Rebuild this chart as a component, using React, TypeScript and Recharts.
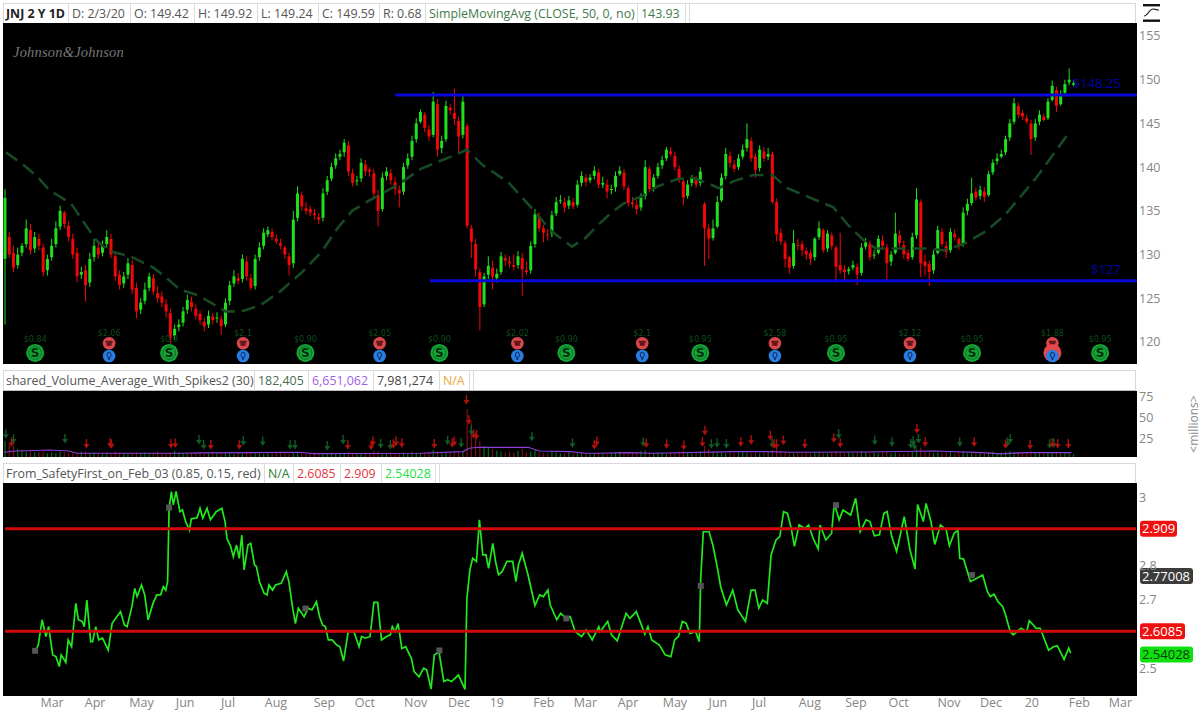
import React from "react";
import { ComposedChart, Bar, Line, Scatter, XAxis, YAxis, ReferenceLine, ReferenceDot } from "recharts";

// Candles are read every second trading session (bar index = position * 2)
const opens = [
129.5,132,130.2,128.8,130.2,131.2,132.8,130.7,131.8,130.8,
128.2,129.7,131.2,133.2,134.8,133.3,131.8,130.2,127.7,128.2,
126.8,129.7,130.8,130.2,131.2,131.8,129.8,127.7,126.7,127.7,
128.8,126.2,123.7,124.7,126.2,127.3,125.6,125.2,124.3,123.3,
120.7,121.7,122.2,123.7,124.6,123.8,123.2,122.3,122,122.9,
122.7,122.6,122,124.7,126.7,127.3,127.2,129.2,127.3,126.4,
129.7,131,132.3,132.6,131.8,131.3,130.8,129.8,129,134.2,
136.8,135.3,135.2,134.7,134.3,134.2,137.2,138.7,140.2,141.2,
141.7,142.5,139.3,138.4,138.7,140.3,139.7,139.3,136.8,135.2,
139,139.3,138.3,137.4,137.2,140.2,141.2,143.2,145.2,146,
144.3,143.7,147.2,142.2,143.2,146.8,146.2,145.3,143.7,144.7,
133,131.2,128,124.3,127.7,128.5,127.3,128,129.6,129.2,
128.8,128.8,129.6,128.2,128.2,131.2,134.4,133,132.3,132.4,
134.7,136.2,136,135.6,136,135.7,138.2,138.8,138.5,139,
139.4,138,138,137.4,137.7,139.2,139.4,137.6,136,135.7,
135.4,136.7,139.8,137.7,139,140.2,141,141.8,141.3,139.8,
138.4,136.7,138.2,138.6,138.2,135.8,133,131.9,133.2,136.2,
139,141.3,140.3,140,141.2,142.2,143,141.2,139.9,141.8,
141.2,141.5,136,132.5,131.3,129.7,128.7,131.1,131.2,130.4,
130.2,129.7,132,132.8,130.7,132.2,130.8,128.8,128.3,128.1,
128.5,128.6,127.9,130.9,131.2,129.9,130.2,131.6,130.8,129.2,
130.2,132.2,131.1,130.2,129.7,132.2,136,129.2,128.9,128.2,
130.2,132.6,131,130.5,132.4,131.8,131.2,135,135.9,137.2,
136.7,137.2,136.8,139.4,140.7,141.2,141.7,143.4,145.2,147,
146.2,145.6,145,143.4,145.2,145.8,145.6,147.7,148.8,147.2,
148.5,149.7,149.42];
const highs = [
137.5,132.6,131,130.8,131.3,134,133.5,132.6,132.4,131.2,
130,131.8,133.8,135.6,135,133.8,132.4,130.8,128.6,128.8,
130.2,131.8,131.3,131.6,132.8,132.4,130.3,128.2,128,129.6,
129.4,126.8,125,126.8,127.9,127.8,126.4,125.8,124.9,123.8,
122,122.6,124,125.4,125.2,124.3,123.6,122.8,123.6,123.3,
123.4,123,125,127,128.2,127.9,130,129.8,127.8,130,
131.4,133,133.2,133,132.3,131.8,131,130.2,135,137.8,
137.2,136,135.6,135.2,134.8,137.6,139,140.5,141.6,142,
143.2,143,139.8,139,141,140.8,140,139.8,137.4,139.4,
140,139.8,138.9,137.9,140.5,141.6,143.6,145.6,146.6,146.3,
144.8,148.6,147.8,143.6,147.6,147.2,149,145.8,148.3,145,
133.4,131.8,128.4,127.9,129.8,129.3,128.4,130.3,130,129.8,
130,130.4,130.2,129.2,131.5,135.2,134.8,133.4,132.9,135,
136.6,136.8,136.5,136.7,136.5,138.5,139.5,139.2,139.2,140.1,
139.8,138.9,138.6,138,139.5,140.1,139.8,137.9,136.6,136.2,
137,140.8,140.1,139.2,140.5,141.3,142.3,142.3,141.8,140.2,
138.6,138.5,139.1,139,140,136,133.5,134,136.7,139.3,
142.2,141.8,140.8,141.5,142.6,145,143.4,141.6,142.5,142.3,
142.2,141.8,136.4,133,131.6,129.9,132.8,131.8,131.6,130.8,
130.6,132,133.8,133,132.8,132.5,131,132.5,128.8,128.6,
129.3,129,131.3,131.9,131.6,130.5,132.2,132.2,131.2,130.4,
134.8,132.8,131.6,130.6,132.5,137.6,136.3,130,129.3,130.5,
133.3,133,131.5,133,132.9,132,135.4,136.4,138.8,137.6,
137.9,137.7,139.6,140.9,141.6,142,143.6,145.5,147.9,147.4,
146.5,146,145.4,145.5,146.5,146.1,147.9,149.9,149.2,148.8,
150,151.3,149.92];
const lows = [
122,129.6,128,128.4,129.8,130.8,130,130.2,130.5,127.5,
127.6,129.3,130.8,132.8,133,131.5,129.5,126.8,127.2,124.6,
126.3,129.2,129.5,129.8,130.8,129.6,127,126,126.2,127.2,
125.5,122.7,123.2,124.3,125.8,125.4,124.5,124,122.8,119.8,
120.2,121.2,121.8,123.2,123.5,122.6,122,121.2,121.6,122,
122.2,120.8,121.7,124.2,126.3,126.6,126.8,127,125.9,126,
129.3,130.6,132,131.6,131.2,130.6,129.5,127.6,128.5,133.8,
135,134.6,134.4,134,133.5,133.8,136.8,138.4,139.8,140.8,
141.2,139,137.8,137.9,138.3,139,138.9,136.6,133.2,134.9,
138.5,138,136.8,135.4,136.8,139.8,140.8,142.8,145,144,
143,143.4,141.2,141.6,142.9,146,144.8,141.6,143.3,133,
129.6,127.5,121.3,124,127.2,126,126.8,127.7,128.7,128.5,
128.2,128.4,125.3,127.7,127.8,130.8,132.6,131.4,131.6,132,
134.4,135.8,134.8,135.2,135.2,135.4,137.8,137.8,138.2,138.6,
137.6,137.6,136.4,136.9,137.2,139,137.4,135.5,135.4,134.6,
135,136.3,137.1,137.2,138.7,139.8,140.7,141.2,139.6,138.2,
135.6,136.4,137.8,137.6,137.8,128.7,129.5,131.6,133,136,
138.6,140,139.4,139.7,140.9,141.8,140.6,138.8,139.5,140.6,
140.8,135.8,131.5,131.1,128.5,127.8,128.4,130.5,129.8,129.4,
128.8,129.3,131.7,130.2,130.3,130.6,126.8,127.8,127.2,127.7,
128.2,126.5,127.6,130.6,129.3,129.5,130,130.6,126.9,128.7,
130,130.9,129.5,129.2,129.4,131.8,127.4,127.6,126.4,127.8,
130,130.9,129.6,130.2,131.6,130.6,130.9,134.5,135.6,136.2,
136.3,136,136.6,139.1,140.3,141,141.4,143,144.9,145.6,
145.4,144.9,141.4,143,144.8,145.2,145.4,147.5,146.3,147,
148.2,149.4,149.24];
const closes = [
136.5,130,128.5,130,131,133,130.5,132,131,128,
129.5,131,133,135,133.5,132,130,127.5,128,126.5,
129.5,131,130,131,132,130,127.5,126.5,127.5,129,
126,123.5,124.5,126,127.5,125.8,125,124.5,123.5,120.5,
121.5,122,123.5,124.8,124,123,122.5,121.8,123,122.5,
122.8,121.8,124.5,126.5,127.5,127,129.5,127.5,126.2,129.5,
130.8,132.5,132.8,132,131.5,131,130,128.8,134,137,
135.5,135,134.8,134.5,134,137,138.5,140,141,141.5,
142.8,139.5,138.2,138.5,140.5,139.5,139.5,137,135,138.8,
139.5,138.5,137.5,137,140,141,143,145,146.3,144.5,
143.5,147.5,142,143,147,146.5,145.5,143.5,147.5,133.3,
131.5,128.3,124,127.5,128.7,127.5,127.8,129.8,129.3,129,
128.6,129.8,128.3,128,131,134.6,133,132.5,132.2,134.5,
136,136.2,135.4,136.2,135.5,138,139,138.3,138.8,139.6,
138,138.2,137.2,137.5,139,139.6,137.8,135.9,135.8,135.2,
136.5,140,137.5,138.8,140,140.8,142,141.5,140,138.6,
136.5,138,138.8,138,139.5,133,131.8,133,136,138.8,
141.5,140.5,139.8,141,142,143.2,141,139.7,142,141,
141.5,136,132.3,131.5,129.5,128.5,131.3,131,130.5,130,
129.5,131.8,133,130.5,132.4,131,128.6,128.2,128,128.3,
128.8,127.7,130.8,131.4,129.7,130,131.8,131,129,130,
132.4,131.3,130,129.5,132,136.3,129,128.7,128,130,
132.8,131.2,130.3,132.6,132,131,134.8,135.8,137,136.5,
137.4,136.6,139.2,140.5,141,141.5,143.2,145,147.3,146,
145.8,145.2,143.2,145,146,145.4,147.5,149.3,147,148.3,
149.5,150,149.59];
const volumes = [
22,18,16,12,11,9,9,8,8,9,
7,8,7,9,8,7,8,7,9,10,
7,8,7,6,8,7,9,8,7,6,
7,8,7,8,6,7,9,7,6,8,
10,8,7,6,7,8,7,6,7,9,
7,8,7,7,6,8,7,9,8,7,
7,6,8,7,8,9,7,6,8,9,
7,6,7,8,7,7,6,8,7,6,
8,9,7,7,6,8,7,10,9,7,
7,8,6,7,8,7,9,8,7,8,
9,11,10,7,8,7,9,8,9,60,
44,32,22,16,14,12,10,9,8,9,
8,10,12,8,9,11,8,7,7,9,
8,7,7,8,7,7,8,7,6,7,
8,7,6,7,8,9,8,7,8,9,
10,11,8,7,8,7,6,8,7,9,
10,8,7,7,9,16,12,9,8,8,
7,8,7,8,9,8,7,8,7,8,
8,11,14,10,9,8,7,8,7,8,
7,8,9,8,7,8,10,8,7,8,
7,8,9,8,7,8,7,8,9,7,
8,7,6,8,9,12,14,9,8,7,
8,7,8,9,7,8,9,7,8,7,
8,7,8,9,7,8,9,10,9,8,
7,8,10,7,8,7,8,8,9,7,
8,7,6];

const smaBars = [0.4,8.5,15.7,21.1,31,37.4,42.8,49,59,70,75.3,82.5,91.5,104,111.4,120.4,129.4,140.2,149.3,156.5,163.7,172.7,185.4,196.2,205.2,212.4,217.9,225,237.7,248.5,257.6,267.5,273.8,280.7,286.1,291.5,300.6,307.8,316.8,324,331.2,336.7,343.9,352.9,362,369.1,381.8,390.8,398,405.2,410.7,417.9,426.9,434.1,443.1,452.2,463,472,479.3,486.5,493.7,502.4];
const smaValues = [141.7,140.3,138.8,137.3,135.9,133.6,131.7,130.4,129.8,128.5,127.5,126,125.3,123.5,123.5,124.2,125.7,128,130.3,132.9,135,136.3,138,139.8,140.7,141.4,142,140.3,138.2,135.3,132.7,130.9,131.9,133.6,134.8,135.8,136.7,137.8,138.6,138.8,138.2,137.6,138.4,139.1,139.1,137.6,136.3,135.4,133.3,131.6,130.7,130.7,130.7,130.7,130.5,131.2,132.7,134.6,136.7,138.8,141.2,144.1];

const avgBars = [-0.5,5,21,30,34,84,91.5,138.4,145.6,196,216,219,223.3,246.8,252,266.6,274,280.7,293,306,344,360,371,407,438,461,470,481,503];
const avgValues = [8.2,9.7,10.9,9.7,7,7,7.4,8.2,6.6,7,9,13,14.2,14.2,9.7,9,7,7,7.8,7,9,9,8.2,8.5,9.7,7.8,6.2,7.8,7.8];

const greenArrowBars = [0.4,4,28.3,91.5,93.7,112.4,121.6,134.5,136.8,152,159.5,177.2,181.8,208.8,215.2,220,248.5,267.7,301.1,333.2,335.9,340.3,361.9,393.3,410.3,418.4,427.3,428.4,430.9,429.1,450.4,472.9,474.2,492.8,494.8];
const greenArrowLevels = [29.8,24.2,24.2,23,17,21.8,21,17,17,15.8,23,18.2,17,22.2,19,34.2,27,19,20.2,17.8,19,18.2,19,29.8,22.2,20.2,18.2,21.8,24.2,16.2,20.2,20.2,24.2,18.2,19];
const redArrowBars = [3.1,38.4,49.6,50.2,78.3,80.3,97.1,110.5,161.7,172.7,173.6,183.2,184.5,187.2,202.5,211,211.9,217.7,218.8,221.1,222.4,278,279.2,302.5,312.1,320.2,329,330.2,347.1,352,361,362.8,363.9,367.2,377.3,391,394,430.2,434.1,457.2,472,483.6,494,496.6,501.6];
const redArrowLevels = [20.2,18.2,19,17.8,18.2,18.6,17,17,17,16.2,21,17.8,21,19,18.2,19,21,71,47,29.8,29,17,21,19,17.8,16.2,20.2,34.2,20.2,22.6,28.2,17.8,17.8,22.2,18.2,25,19,36.2,20.2,20.2,17.8,17,19,18.2,18.2];

const indicatorBars = [14.2,15.7,17.5,19.3,20.6,22.5,24,25.6,26.5,28.7,29.8,31.4,33.4,34.6,36.4,37.4,38.6,40.4,41.3,42.8,44.2,46,48.7,50.5,52.7,54.5,56.3,57.6,60,61.2,62.3,64.4,65.9,67.5,69.8,71.6,73.4,74.7,75.8,76.7,77.4,78.5,79.4,80.7,82.5,83.7,85.2,87,87.9,90.6,92,93.3,95.3,96.9,99.6,102.3,103.8,104.7,106.5,107.7,109.2,110.5,111.7,112.8,114.6,115.9,117.7,118.6,120,122.2,123.6,124.5,126.2,127.6,130.3,132.7,133.9,135.7,137,138.4,141.1,143,144.8,146.9,148.4,149.8,151.1,152.5,154.3,156.5,158,159.7,161.9,164.6,167,168.2,170,172.2,174,175.8,177.6,180,181.8,182.7,184.1,185.4,187.2,189,191.7,193,195.3,197.5,198.9,201,202.5,204.7,207,208.8,210.6,213.9,217,217.9,219.3,220.6,222.4,223.8,225.4,226.9,228.1,230.1,231.4,232.8,234.5,236.8,239.5,241,242.2,244,246.7,250,252.2,254,256.1,257.2,260.3,262.1,264.8,266.6,269,272,274.2,277,280.1,280.7,284.3,286.1,288.8,293,294.8,297.8,300.2,301.8,303.3,305.1,308.7,311.4,314.1,315.9,317.7,319.5,321.3,323.1,325.8,327.5,328.2,329.4,332.1,333.9,335.8,337.6,340.3,343.3,345.7,349.3,352,353.8,355.6,357.4,359.6,361.4,363.7,365.5,367.3,369.1,370.9,372.4,374.6,377.3,379.1,381.2,383.6,384.5,387.2,389.9,391.2,393.5,395.3,398.9,401.3,403.4,406.2,408,410.1,412.5,414.6,416.1,418.3,420.6,424.2,426.9,429.3,430.5,433.2,434.5,436.8,438.6,441.3,444,445.5,447.7,449.5,450.4,452.2,455.4,458.5,461.2,463.4,464.8,466.6,468.4,470.6,472,474.2,475.6,479.3,482,483.2,486.5,488.3,492.3,494.6,496.4,499.6,501.8,502.7];
const indicatorValues = [2.549,2.568,2.642,2.593,2.622,2.539,2.534,2.505,2.539,2.517,2.583,2.563,2.69,2.642,2.637,2.622,2.7,2.578,2.578,2.622,2.583,2.588,2.553,2.631,2.651,2.666,2.627,2.622,2.685,2.734,2.71,2.744,2.715,2.642,2.69,2.715,2.715,2.739,2.729,2.754,2.969,3.018,2.979,3.018,2.959,2.964,2.93,2.905,2.938,2.941,2.969,2.94,2.969,2.935,2.959,2.969,2.93,2.881,2.856,2.827,2.861,2.822,2.89,2.788,2.861,2.866,2.803,2.798,2.754,2.72,2.715,2.744,2.729,2.744,2.749,2.783,2.754,2.676,2.631,2.676,2.651,2.676,2.671,2.695,2.651,2.627,2.622,2.583,2.583,2.568,2.563,2.521,2.607,2.607,2.563,2.593,2.588,2.593,2.693,2.693,2.583,2.593,2.598,2.622,2.607,2.631,2.558,2.563,2.529,2.49,2.475,2.5,2.495,2.439,2.539,2.549,2.461,2.466,2.461,2.48,2.438,2.705,2.788,2.822,2.813,2.935,2.832,2.832,2.793,2.866,2.813,2.774,2.783,2.813,2.813,2.754,2.803,2.837,2.774,2.684,2.715,2.71,2.729,2.685,2.642,2.661,2.646,2.651,2.607,2.593,2.612,2.583,2.622,2.607,2.637,2.598,2.58,2.661,2.646,2.666,2.627,2.6,2.622,2.583,2.568,2.539,2.534,2.583,2.593,2.637,2.632,2.602,2.607,2.578,2.764,2.9,2.9,2.861,2.803,2.739,2.685,2.729,2.671,2.637,2.729,2.729,2.676,2.7,2.69,2.832,2.876,2.886,2.959,2.954,2.91,2.857,2.92,2.91,2.92,2.881,2.85,2.92,2.876,2.895,2.983,2.935,2.964,2.949,2.998,2.9,2.935,2.93,2.888,2.891,2.954,2.959,2.886,2.842,2.944,2.847,2.791,2.98,2.93,2.983,2.93,2.863,2.92,2.905,2.859,2.895,2.905,2.822,2.82,2.754,2.764,2.773,2.725,2.71,2.717,2.695,2.681,2.656,2.607,2.598,2.617,2.607,2.639,2.617,2.617,2.553,2.563,2.566,2.526,2.559,2.544];
const markerBars = [14.2,77.4,141.7,204.9,264.8,328.2,392,456.2];
const markerValues = [2.551,2.971,2.675,2.552,2.646,2.741,2.978,2.773];

const dividendBars = [14.2,77.4,141.7,204.9,264.8,328,392,456.2,516.6];
const dividendLabels = ["$0.84","$0.9","$0.90","$0.90","$0.90","$0.95","$0.95","$0.95","$0.95"];
const earningsBars = [49.1,112.3,176.7,241.7,300.6,363.2,426.9,494.1];
const earningsLabels = ["$2.06","$2.1","$2.05","$2.02","$2.1","$2.58","$2.12","$1.88"];

const monthBars = [22.2,42.5,64.4,85,105.2,127.8,150.7,169.8,193.7,214.2,232,254.2,273.8,293.9,316,336.3,355.7,379.7,401.4,421.5,445.3,465.1,484.4,506.8,526.2];
const monthLabels = ["Mar","Apr","May","Jun","Jul","Aug","Sep","Oct","Nov","Dec","19","Feb","Mar","Apr","May","Jun","Jul","Aug","Sep","Oct","Nov","Dec","20","Feb","Mar"];

const priceTicks = [120,125,130,135,140,145,150,155];
const volumeTicks = [25,50,75];
const indicatorTicks = [2.5,2.7,2.8,3];
const RESISTANCE = 148.25;
const SUPPORT = 127;
const UPPER_BAND = 2.909;
const LOWER_BAND = 2.6085;

const candleRows = closes.map((close, k) => ({
  i: k * 2,
  open: opens[k],
  high: highs[k],
  low: lows[k],
  close,
  range: [lows[k], highs[k]],
  volume: volumes[k],
}));
const smaRows = smaBars.map((i, k) => ({ i, sma: smaValues[k] }));
const avgRows = avgBars.map((i, k) => ({ i, avg: avgValues[k] }));
const indicatorRows = indicatorBars.map((i, k) => ({ i, value: indicatorValues[k] }));
const markerRows = markerBars.map((i, k) => ({ i, v: markerValues[k] }));
const greenArrowRows = greenArrowBars.map((i, k) => ({ i, v: greenArrowLevels[k] }));
const redArrowRows = redArrowBars.map((i, k) => ({ i, v: redArrowLevels[k] }));
const dividendRows = dividendBars.map((i, k) => ({ i, v: 118.75, label: dividendLabels[k] }));
const earningsRows = earningsBars.map((i, k) => ({ i, v: 119.85, label: earningsLabels[k] }));
const bulbRows = earningsBars.map((i) => ({ i, v: 118.4 }));

const FONT = "'Open Sans', 'Noto Sans', sans-serif";
const X_DOMAIN: [number, number] = [-0.95, 534];
const AXIS_TICK = { fill: "#858585", fontSize: 12.5, fontFamily: FONT };

function Candle(props: any) {
  const { x, y, width, height, payload } = props;
  const { open, close, high, low } = payload;
  const s = height / Math.max(high - low, 0.01);
  const yo = y + (high - open) * s;
  const yc = y + (high - close) * s;
  const cx = x + width / 2;
  const color = close >= open ? "#1fe01f" : "#f00808";
  return (
    <g>
      <line x1={cx} x2={cx} y1={y} y2={y + height} stroke={color} strokeWidth={1} />
      <rect x={cx - 1.5} width={3} y={Math.min(yo, yc)} height={Math.max(Math.abs(yc - yo), 1)} fill={color} />
    </g>
  );
}

function VolumeBar(props: any) {
  const { x, y, width, height, payload } = props;
  const color = payload.close >= payload.open ? "#0f6a16" : "#7c1212";
  return <rect x={x + width / 2 - 0.6} y={y} width={1.2} height={height} fill={color} />;
}

function DividendIcon(props: any) {
  const { cx, cy, payload } = props;
  return (
    <g fontFamily="'DejaVu Sans', sans-serif">
      <text x={cx} y={cy - 11} textAnchor="middle" fontSize={8} fill="#0d4d1c">{payload.label}</text>
      <circle cx={cx} cy={cy} r={9} fill="#14a637" />
      <circle cx={cx} cy={cy} r={6.4} fill="none" stroke="#0b5f20" strokeWidth={0.8} />
      <text x={cx} y={cy + 4.5} textAnchor="middle" fontSize={12} fontWeight="bold" fill="#052b0e">S</text>
    </g>
  );
}

function EarningsIcon(props: any) {
  const { cx, cy, payload } = props;
  return (
    <g fontFamily="'DejaVu Sans', sans-serif">
      <text x={cx} y={cy - 7.5} textAnchor="middle" fontSize={8} fill="#0d4d1c">{payload.label}</text>
      <circle cx={cx} cy={cy} r={6.3} fill="#d8474b" />
      <rect x={cx - 3.5} y={cy - 2.5} width={7} height={2} fill="#5c1518" />
      <rect x={cx - 2.5} y={cy - 0.5} width={5} height={3} fill="#5c1518" />
    </g>
  );
}

function BulbIcon(props: any) {
  const { cx, cy } = props;
  return (
    <g>
      {cx > 1040 && cx < 1060 ? <circle cx={cx} cy={cy - 3} r={9} fill="#e4484c" /> : null}
      <circle cx={cx} cy={cy} r={6.3} fill="#2a7de0" />
      <ellipse cx={cx} cy={cy - 1} rx={2} ry={2.8} fill="none" stroke="#0a2a5c" strokeWidth={1} />
      <line x1={cx} x2={cx} y1={cy + 2} y2={cy + 4} stroke="#0a2a5c" strokeWidth={1.5} />
    </g>
  );
}

function ArrowMark(color: string) {
  return function Arrow(props: any) {
    const { cx, cy } = props;
    return (
      <g>
        <line x1={cx} x2={cx} y1={cy - 5} y2={cy + 2} stroke={color} strokeWidth={1.4} />
        <path d={`M${cx - 3} ${cy} L${cx + 3} ${cy} L${cx} ${cy + 4.5} Z`} fill={color} />
      </g>
    );
  };
}

function MarkerSquare(props: any) {
  const { cx, cy } = props;
  return <rect x={cx - 3} y={cy - 3} width={6} height={6} fill="#555555" />;
}

function Tag(fill: string, color: string, text: string, w: number) {
  return function TagShape(props: any) {
    const { cx, cy } = props;
    return (
      <g>
        <rect x={cx + 3} y={cy - 8} width={w} height={16} rx={3} fill={fill} />
        <text x={cx + 5} y={cy + 4.5} fontSize={13} fontFamily={FONT} fill={color}>{text}</text>
      </g>
    );
  };
}

const panelBox = (top: number, height: number): React.CSSProperties => ({
  position: "absolute", left: 3, top, width: 1134, height, background: "#000",
});

function HeaderRow({ top, height, cells }: { top: number; height: number; cells: { x: number; text: string; color: string; bold?: boolean }[] }) {
  return (
    <div style={{ position: "absolute", left: 3, top, width: 1133, height, border: "1px solid #d8d8d8", borderBottom: "1px solid #bdbdbd", boxSizing: "border-box", background: "#fff" }}>
      {cells.map((c, k) => {
        const next = cells[k + 1];
        const w = next ? next.x - c.x : undefined;
        return (
          <div key={k} style={{ position: "absolute", left: c.x - 4, top: 0, width: w, boxSizing: "border-box", height: height - 2, lineHeight: `${height - 2}px`, paddingLeft: 3, borderRight: "1px solid #dcdcdc", whiteSpace: "nowrap", fontFamily: FONT, fontSize: 12.4, fontWeight: c.bold ? 700 : 400, color: c.color }}>
            {c.text}
          </div>
        );
      })}
    </div>
  );
}

const topCells = [
  { x: 3, text: "JNJ 2 Y 1D", color: "#222", bold: true },
  { x: 69, text: "D: 2/3/20", color: "#555" },
  { x: 131, text: "O: 149.42", color: "#555" },
  { x: 195, text: "H: 149.92", color: "#555" },
  { x: 258, text: "L: 149.24", color: "#555" },
  { x: 319, text: "C: 149.59", color: "#555" },
  { x: 380, text: "R: 0.68", color: "#555" },
  { x: 426, text: "SimpleMovingAvg (CLOSE, 50, 0, no)", color: "#3f7a4a" },
  { x: 638, text: "143.93", color: "#3f7a4a" },
  { x: 686, text: "", color: "#fff" },
];
const volumeCells = [
  { x: 3, text: "shared_Volume_Average_With_Spikes2 (30)", color: "#555" },
  { x: 255, text: "182,405", color: "#4a6a4a" },
  { x: 309, text: "6,651,062", color: "#a060e0" },
  { x: 374, text: "7,981,274", color: "#444" },
  { x: 440, text: "N/A", color: "#e8a83c" },
  { x: 470, text: "", color: "#fff" },
];
const indicatorCells = [
  { x: 3, text: "From_SafetyFirst_on_Feb_03 (0.85, 0.15, red)", color: "#555" },
  { x: 265, text: "N/A", color: "#2e7d32" },
  { x: 294, text: "2.6085", color: "#e8323c" },
  { x: 341, text: "2.909", color: "#e8323c" },
  { x: 382, text: "2.54028", color: "#22dd44" },
  { x: 436, text: "", color: "#fff" },
];

export default function App() {
  return (
    <div style={{ position: "absolute", left: 0, top: 0, width: 1200, height: 716, background: "#fff", overflow: "hidden" }}>
      <HeaderRow top={3} height={21} cells={topCells} />
      <HeaderRow top={370} height={21} cells={volumeCells} />
      <HeaderRow top={463} height={21} cells={indicatorCells} />

      <svg style={{ position: "absolute", left: 1143, top: 4 }} width={18} height={18}>
        <rect x={0} y={0} width={17} height={2.4} fill="#111" />
        <rect x={0} y={15.5} width={17} height={2.4} fill="#111" />
        <path d="M1 12 C5 12 6 5 10 5 C12 5 13 6 16 6" fill="none" stroke="#222" strokeWidth={1.2} />
      </svg>

      <div style={panelBox(23, 341)} />
      <div style={panelBox(391, 66)} />
      <div style={panelBox(483, 213)} />

      <div style={{ position: "absolute", left: 13, top: 44, fontFamily: "'Liberation Serif', serif", fontStyle: "italic", fontSize: 14.5, color: "#777", whiteSpace: "nowrap", letterSpacing: 0.2 }}>
        Johnson&amp;Johnson
      </div>

      <div style={{ position: "absolute", left: 3, top: 23 }}>
        <ComposedChart width={1197} height={341} data={candleRows} margin={{ top: 0, right: 0, bottom: 0, left: 0 }}>
          <XAxis dataKey="i" type="number" domain={X_DOMAIN} allowDataOverflow hide />
          <YAxis orientation="right" width={63} domain={[117.48, 156.49]} ticks={priceTicks} interval={0} allowDataOverflow axisLine={false} tickLine={false} tickSize={0} tickMargin={2} tick={AXIS_TICK} />
          <Bar dataKey="range" barSize={2} shape={Candle} isAnimationActive={false} />
          <Line data={smaRows} dataKey="sma" stroke="#174a24" strokeWidth={2.6} strokeDasharray="14 7" dot={false} activeDot={false} legendType="none" type="linear" isAnimationActive={false} />
          <ReferenceLine segment={[{ x: 184, y: RESISTANCE }, { x: 534, y: RESISTANCE }]} stroke="#0808d8" strokeWidth={3} />
          <ReferenceLine segment={[{ x: 200.5, y: SUPPORT }, { x: 534, y: SUPPORT }]} stroke="#0808d8" strokeWidth={3} />
          <ReferenceDot x={515} y={149.6} r={0} stroke="none" label={{ value: "$148.25", position: "center", fill: "#0000a8", fontSize: 13, fontFamily: FONT }} />
          <ReferenceDot x={519.3} y={128.3} r={0} stroke="none" label={{ value: "$127", position: "center", fill: "#0000a8", fontSize: 13, fontFamily: FONT }} />
          <Scatter data={dividendRows} dataKey="v" shape={DividendIcon} isAnimationActive={false} />
          <Scatter data={earningsRows} dataKey="v" shape={EarningsIcon} isAnimationActive={false} />
          <Scatter data={bulbRows} dataKey="v" shape={BulbIcon} isAnimationActive={false} />
        </ComposedChart>
      </div>

      <div style={{ position: "absolute", left: 3, top: 391 }}>
        <ComposedChart width={1197} height={66} data={candleRows} margin={{ top: 0, right: 0, bottom: 0, left: 0 }}>
          <XAxis dataKey="i" type="number" domain={X_DOMAIN} allowDataOverflow hide />
          <YAxis orientation="right" width={63} domain={[2.5, 81.9]} ticks={volumeTicks} interval={0} allowDataOverflow axisLine={false} tickLine={false} tickSize={0} tickMargin={2} tick={AXIS_TICK} />
          <Bar dataKey="volume" barSize={2} shape={VolumeBar} isAnimationActive={false} />
          <Line data={avgRows} dataKey="avg" stroke="#8a3fd8" strokeWidth={1.2} dot={false} activeDot={false} legendType="none" type="linear" isAnimationActive={false} />
          <Scatter data={greenArrowRows} dataKey="v" shape={ArrowMark("#0f5a25")} isAnimationActive={false} />
          <Scatter data={redArrowRows} dataKey="v" shape={ArrowMark("#b01010")} isAnimationActive={false} />
        </ComposedChart>
      </div>

      <div style={{ position: "absolute", left: 1159, top: 418, width: 70, height: 12, transform: "rotate(-90deg)", transformOrigin: "center", fontFamily: FONT, fontSize: 12, lineHeight: "12px", color: "#8c8c8c", whiteSpace: "nowrap", textAlign: "center" }}>
        &lt;millions&gt;
      </div>

      <div style={{ position: "absolute", left: 3, top: 483 }}>
        <ComposedChart width={1197} height={233} data={indicatorRows} margin={{ top: 0, right: 0, bottom: 0, left: 0 }}>
          <XAxis
            dataKey="i" type="number" domain={X_DOMAIN} allowDataOverflow ticks={monthBars} interval={0} height={20}
            axisLine={false} tickLine={false} tickSize={0} tickMargin={2} tick={AXIS_TICK}
            tickFormatter={(v: number) => monthLabels[monthBars.indexOf(v)] ?? ""}
          />
          <YAxis orientation="right" width={63} domain={[2.4185, 3.043]} ticks={indicatorTicks} interval={0} allowDataOverflow axisLine={false} tickLine={false} tickSize={0} tickMargin={2} tick={AXIS_TICK} tickFormatter={(v: number) => String(v)} />
          <Line dataKey="value" stroke="#22e81e" strokeWidth={1.7} dot={false} activeDot={false} type="linear" isAnimationActive={false} />
          <ReferenceLine segment={[{ x: 0, y: UPPER_BAND }, { x: 533.5, y: UPPER_BAND }]} stroke="#d00a0a" strokeWidth={3} />
          <ReferenceLine segment={[{ x: 0, y: LOWER_BAND }, { x: 533.5, y: LOWER_BAND }]} stroke="#d00a0a" strokeWidth={3} />
          <Scatter data={markerRows} dataKey="v" shape={MarkerSquare} isAnimationActive={false} />
          <ReferenceDot x={534} y={2.909} ifOverflow="visible" shape={Tag("#f01010", "#fff", "2.909", 37)} />
          <ReferenceDot x={534} y={2.77008} ifOverflow="visible" shape={Tag("#3c3c3c", "#fff", "2.77008", 53)} />
          <ReferenceDot x={534} y={2.6085} ifOverflow="visible" shape={Tag("#f01010", "#fff", "2.6085", 45)} />
          <ReferenceDot x={534} y={2.54028} ifOverflow="visible" shape={Tag("#10e010", "#0a3a0a", "2.54028", 53)} />
        </ComposedChart>
      </div>
    </div>
  );
}
